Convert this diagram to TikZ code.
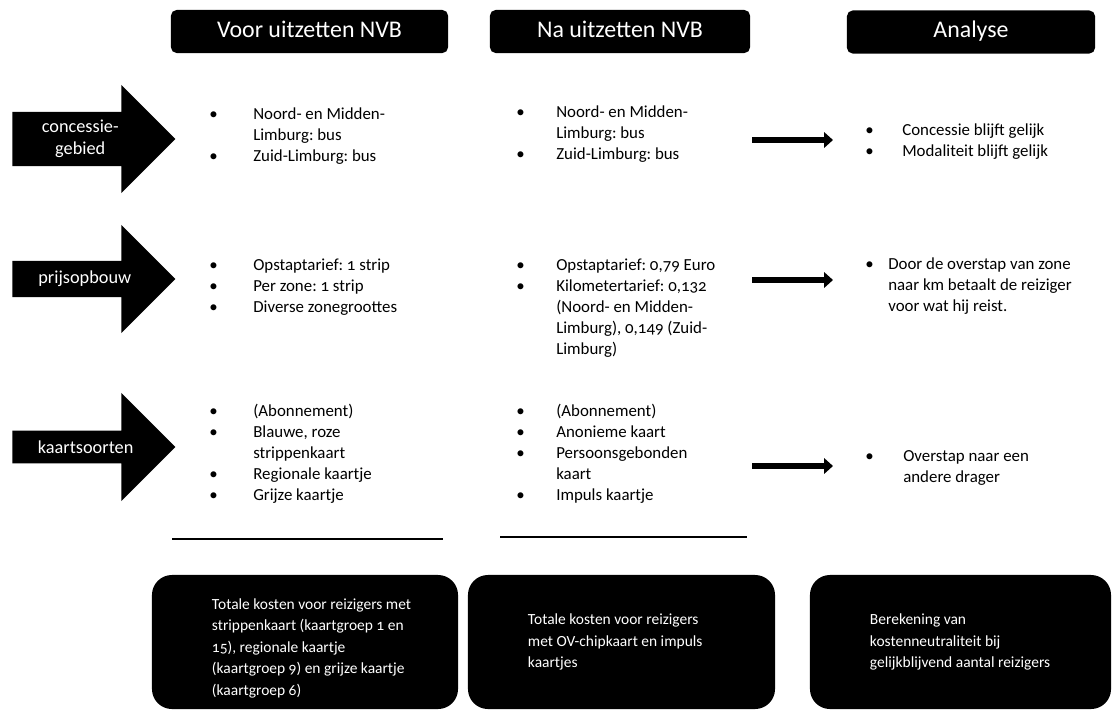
\documentclass[tikz,border=0pt]{standalone}
\usepackage{fontspec}
\setmainfont{Carlito}[Numbers=OldStyle]
\usetikzlibrary{positioning,arrows.meta,shapes.arrows}
\frenchspacing
\newcommand{\bulletlist}[2]{\begin{tabular}[t]{@{}p{#1}@{}l@{}}#2\end{tabular}}

\begin{document}
\begin{tikzpicture}[x=0.025cm,y=-0.025cm,
      headbox/.style={fill=black,text=white,rounded corners=4pt,text height=2.3ex,text depth=0.6ex,
                  minimum height=1.075cm,font=\fontsize{17}{20}\selectfont},
      rowarrow/.style={single arrow,fill=black,text=white,anchor=tail,
                  single arrow head extend=0.55cm,minimum width=2.7cm,minimum height=4.075cm,
                  inner sep=2pt,align=center,font=\fontsize{13}{16}\selectfont},
      listtext/.style={anchor=base west,inner sep=0pt,font=\fontsize{12}{15}\selectfont},
      arr/.style={-{Triangle[length=2.2mm,width=3.8mm]},line width=4.5pt,black},
      rule/.style={line width=1.4pt,black},
      sumbox/.style={fill=black,rounded corners=0.5cm,minimum height=3.35cm},
      sumtext/.style={text=white,align=left,inner sep=0pt,font=\fontsize{11}{15.3}\selectfont}]
    \useasboundingbox (0,0) rectangle (1113,712);
    \node[headbox,minimum width=6.925cm] (hvoor) at (309.5,31.5) {Voor uitzetten NVB};
    \node[headbox,minimum width=6.5cm] (hna) at (620,31.5) {Na uitzetten NVB};
    \node[headbox,minimum width=6.2cm] (hanalyse) at (971,32) {Analyse};
    \node[rowarrow] (kgebied) at (12,139) {concessie-\\gebied};
    \node[rowarrow] (kprijs) at (12,279) {prijsopbouw};
    \node[rowarrow] (ksoort) at (12,447) {kaartsoorten};
    % voor uitzetten
    \node[listtext] (voor1) at (209,119) {\bulletlist{1.1cm}{\textbullet & Noord- en Midden-\\ & Limburg: bus\\ \textbullet & Zuid-Limburg: bus}};
    \node[listtext] (voor2) at (209,270) {\bulletlist{1.1cm}{\textbullet & Opstaptarief: 1 strip\\ \textbullet & Per zone: 1 strip\\ \textbullet & Diverse zonegroottes}};
    \node[listtext] (voor3) at (209,416) {\bulletlist{1.1cm}{\textbullet & (Abonnement)\\ \textbullet & Blauwe, roze\\ & strippenkaart\\ \textbullet & Regionale kaartje\\ \textbullet & Grijze kaartje}};
    % na uitzetten
    \node[listtext] (na1) at (516,117) {\bulletlist{1.0cm}{\textbullet & Noord- en Midden-\\ & Limburg: bus\\ \textbullet & Zuid-Limburg: bus}};
    \node[listtext] (na2) at (516,270) {\bulletlist{1.0cm}{\textbullet & Opstaptarief: 0,79 Euro\\ \textbullet & Kilometertarief: 0,132\\ & (Noord- en Midden-\\ & Limburg), 0,149 (Zuid-\\ & Limburg)}};
    \node[listtext] (na3) at (516,416) {\bulletlist{1.0cm}{\textbullet & (Abonnement)\\ \textbullet & Anonieme kaart\\ \textbullet & Persoonsgebonden\\ & kaart\\ \textbullet & Impuls kaartje}};
    % analyse
    \node[listtext] (an1) at (865,135) {\bulletlist{0.925cm}{\textbullet & Concessie blijft gelijk\\ \textbullet & Modaliteit blijft gelijk}};
    \node[listtext] (an2) at (865,269) {\bulletlist{0.575cm}{\textbullet & Door de overstap van zone\\ & naar km betaalt de reiziger\\ & voor wat hij reist.}};
    \node[listtext] (an3) at (865,461) {\bulletlist{0.95cm}{\textbullet & Overstap naar een\\ & andere drager}};
    \coordinate (a1s) at (752,140); \coordinate (a1e) at (833,140);
    \coordinate (a2s) at (752,280); \coordinate (a2e) at (833,280);
    \coordinate (a3s) at (752,466); \coordinate (a3e) at (833,466);
    \draw[arr] (a1s) -- (a1e);
    \draw[arr] (a2s) -- (a2e);
    \draw[arr] (a3s) -- (a3e);
    \coordinate (l1a) at (172,539); \coordinate (l1b) at (443,539);
    \coordinate (l2a) at (500,537); \coordinate (l2b) at (747,537);
    \draw[rule] (l1a) -- (l1b);
    \draw[rule] (l2a) -- (l2b);
    % totalen
    \node[sumbox,minimum width=7.65cm] (b1) at (305,642) {};
    \node[sumbox,minimum width=7.675cm] (b2) at (621.5,642) {};
    \node[sumbox,minimum width=7.525cm] (b3) at (960.5,642) {};
    \node[sumtext,right=1.5cm of b1.west,yshift=-0.15cm] (t1) {Totale kosten voor reizigers met\\strippenkaart (kaartgroep 1 en\\15), regionale kaartje\\(kaartgroep 9) en grijze kaartje\\(kaartgroep 6)};
    \node[sumtext,right=1.5cm of b2.west] (t2) {Totale kosten voor reizigers\\met OV-chipkaart en impuls\\kaartjes};
    \node[sumtext,right=1.5cm of b3.west] (t3) {Berekening van\\kostenneutraliteit bij\\gelijkblijvend aantal reizigers};
  \end{tikzpicture}
\end{document}
